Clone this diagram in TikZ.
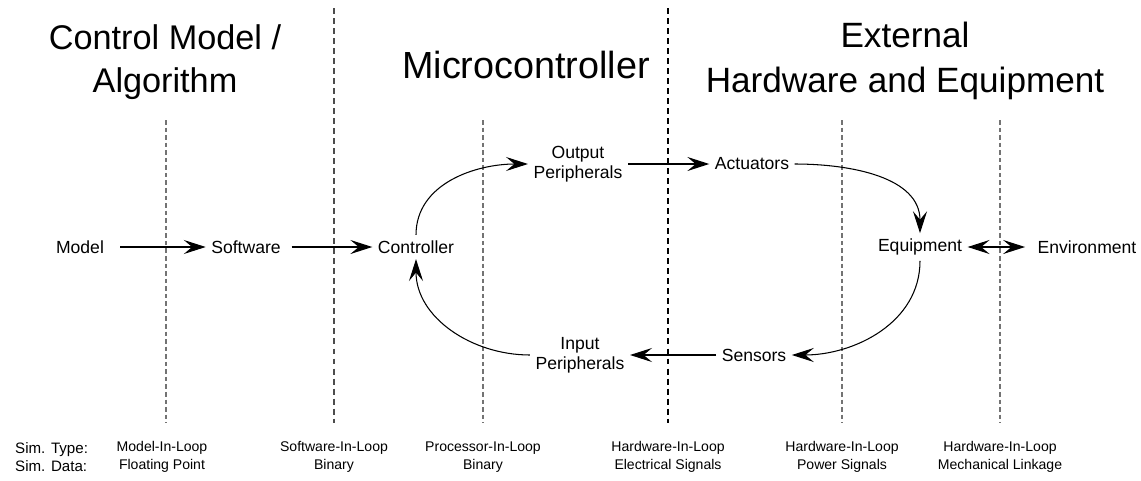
\documentclass[tikz,border=0pt]{standalone}
\usepackage{fontspec}
\setmainfont{Liberation Sans}
\usetikzlibrary{arrows.meta}

\tikzset{
  blk/.style={inner sep=3pt, align=center, font=\fontsize{10}{11.5}\selectfont},
  hdr/.style={align=center, font=\fontsize{20}{25.5}\selectfont},
  sim/.style={align=center, font=\fontsize{8}{10}\selectfont},
  flow/.style={-{Stealth[length=12.5pt,width=8pt,inset=4.8pt]}, line width=0.6pt},
  bothflow/.style={{Stealth[length=12.5pt,width=8pt,inset=4.8pt]}-{Stealth[length=12.5pt,width=8pt,inset=4.8pt]}, line width=0.6pt},
  bound/.style={dash pattern=on 3.4pt off 2.3pt, line width=0.8pt},
  stage/.style={dash pattern=on 2.6pt off 1.7pt, line width=0.6pt, black!55}
}

\begin{document}
\begin{tikzpicture}[x=0.02cm,y=-0.02cm]
   \useasboundingbox (0,0) rectangle (1141,480);
   % separators
   \foreach \x in {166,483,842,1000} {
    \draw[stage] (\x,120) -- (\x,423);
   }
   \draw[bound,black!70] (334,8) -- (334,423);
   \draw[bound] (668,8) -- (668,423);
   % headings
   \node[hdr,font=\fontsize{19.5}{24.5}\selectfont] (hctrl) at (165,62) {Control Model /\\Algorithm};
   \node[hdr,font=\fontsize{21.5}{26}\selectfont] (hmcu) at (526,65) {Microcontroller};
   \node[hdr] (hext) at (905,61) {External\\Hardware and Equipment};
   % blocks
   \node[blk] (model) at (80,247) {Model};
   \node[blk] (software) at (246,247) {Software};
   \node[blk] (controller) at (416,247) {Controller};
   \node[blk] (outperiph) at (578,164) {Output\\Peripherals};
   \node[blk] (actuators) at (752,164) {Actuators};
   \node[blk] (equipment) at (920,247) {Equipment};
   \node[blk] (environment) at (1087,247) {Environment};
   \node[blk] (sensors) at (754,355) {Sensors};
   \node[blk] (inperiph) at (580,355) {Input\\Peripherals};
   % signal flow
   \draw[flow,shorten <=6pt] (model) -- (software);
   \draw[flow,shorten <=3pt] (software) -- (controller);
   \draw[flow] (controller.north) to[out=90,in=180] (outperiph.west);
   \draw[flow] (outperiph) -- (actuators);
   \draw[flow] (actuators.east) to[out=0,in=90] (equipment.north);
   \draw[bothflow,shorten >=4pt] (equipment) -- (environment);
   \draw[flow] (equipment.south) to[out=-90,in=0] (sensors.east);
   \draw[flow] (sensors) -- (inperiph);
   \draw[flow] (inperiph.west) to[out=180,in=-90] (controller.south);
   % simulation levels
   \node[sim,align=left,anchor=west,font=\fontsize{8.6}{10}\selectfont] (simlbl) at (9,457) {Sim. Type:\\Sim. Data:};
   \node[sim] (mil) at (162,457) {Model-In-Loop\\Floating Point};
   \node[sim] (sil) at (334,457) {Software-In-Loop\\Binary};
   \node[sim] (pil) at (483,457) {Processor-In-Loop\\Binary};
   \node[sim] (hile) at (668,457) {Hardware-In-Loop\\Electrical Signals};
   \node[sim] (hilp) at (842,457) {Hardware-In-Loop\\Power Signals};
   \node[sim] (hilm) at (1000,457) {Hardware-In-Loop\\Mechanical Linkage};
\end{tikzpicture}
\end{document}
